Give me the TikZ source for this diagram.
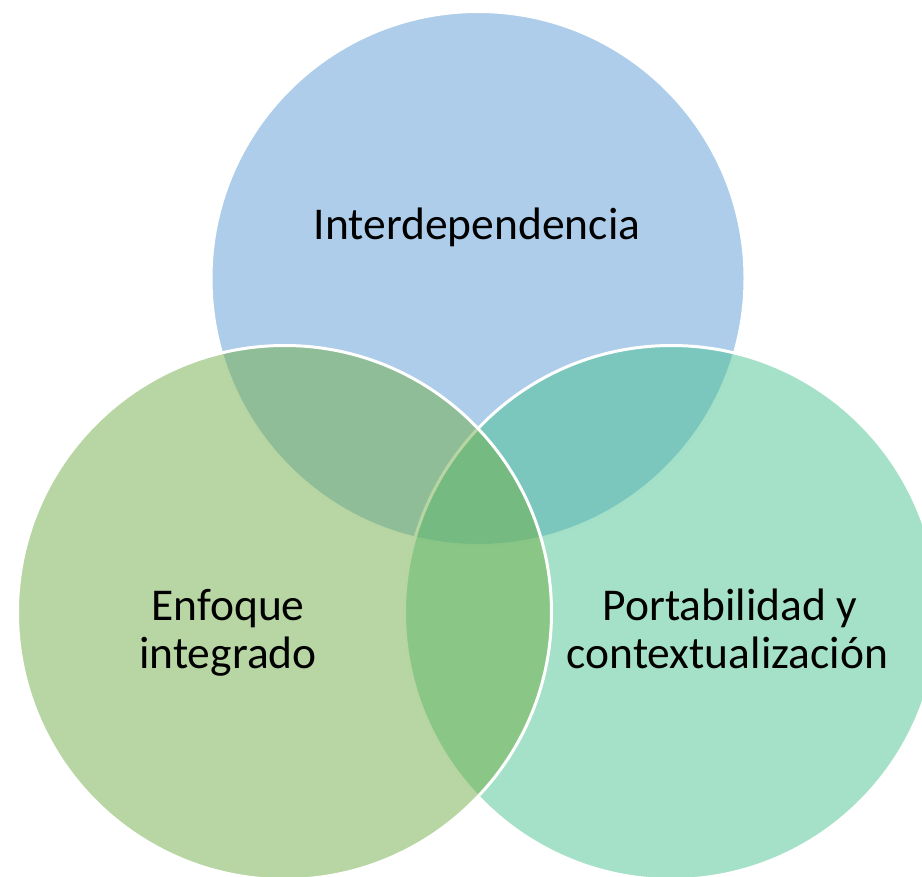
\documentclass[tikz,border=0pt]{standalone}
\usepackage{fontspec}
\setmainfont{Carlito}
\definecolor{cblue}{HTML}{5B9BD5}
\definecolor{cgreen}{HTML}{70AD47}
\definecolor{cteal}{HTML}{4BC391}
\tikzset{
  venn/.style={circle, minimum size=534pt, inner sep=0pt, draw=white, line width=3pt, fill opacity=0.5, draw opacity=1},
  lbl/.style={anchor=base, inner sep=0pt, text=black, font=\fontsize{45.5}{50}\selectfont}
}
\begin{document}
\begin{tikzpicture}[x=1pt,y=-1pt]
\useasboundingbox (0,0) rectangle (922,877);
\clip (0,0) rectangle (922,877);
\node[venn, fill=cblue]  (ctop)   at (478,278.5) {};
\node[venn, fill=cteal]  (cright) at (671.5,612.5) {};
\node[venn, fill=cgreen] (cleft)  at (284.5,612.5) {};
\node[lbl] (t1) at (477,240) {Interdependencia};
\node[lbl] (t2) at (228,620) {Enfoque};
\node[lbl] (t3) at (228,668) {integrado};
\node[lbl] (t4) at (730,620) {Portabilidad y};
\node[lbl] (t5) at (727.5,668) {contextualización};
\end{tikzpicture}
\end{document}
